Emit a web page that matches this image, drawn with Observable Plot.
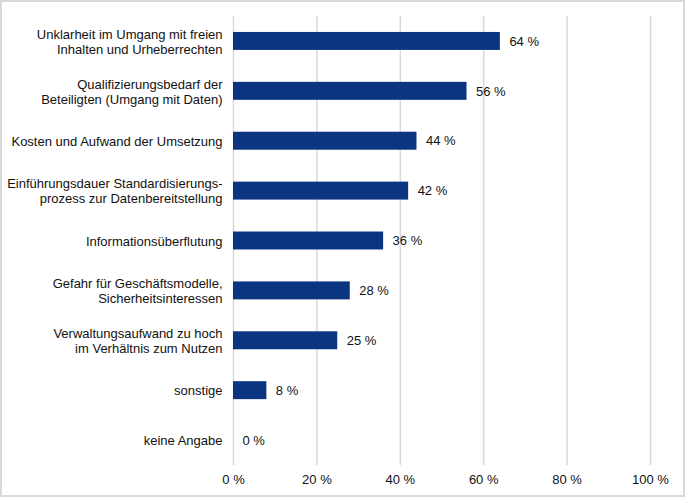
<!DOCTYPE html>
<html>
<head>
<meta charset="utf-8">
<script src="https://cdn.jsdelivr.net/npm/d3@7"></script>
<script src="https://cdn.jsdelivr.net/npm/@observablehq/plot@0.6"></script>
<style>
  html, body { margin: 0; padding: 0; background: #fff; }
  #wrap { width: 685px; height: 497px; box-sizing: border-box; border: 2px solid #d9d9d9; background: #fff; }
  #wrap svg { display: block; }
</style>
</head>
<body>
<div id="wrap"></div>
<script>
const categories = [
  "Unklarheit im Umgang mit freien\nInhalten und Urheberrechten",
  "Qualifizierungsbedarf der\nBeteiligten (Umgang mit Daten)",
  "Kosten und Aufwand der Umsetzung",
  "Einführungsdauer Standardisierungs-\nprozess zur Datenbereitstellung",
  "Informationsüberflutung",
  "Gefahr für Geschäftsmodelle,\nSicherheitsinteressen",
  "Verwaltungsaufwand zu hoch\nim Verhältnis zum Nutzen",
  "sonstige",
  "keine Angabe"
];
const values = [64, 56, 44, 42, 36, 28, 25, 8, 0];
const xTicks = [0, 20, 40, 60, 80, 100];

const data = categories.map((c, i) => ({category: c, value: values[i]}));

const chart = Plot.plot({
  width: 681,
  height: 493,
  marginLeft: 231,
  marginRight: 33,
  marginTop: 14,
  marginBottom: 30,
  style: {fontFamily: "'Liberation Sans', Arial, sans-serif", fontSize: "13px", color: "#111", background: "#fff"},
  x: {domain: [0, 100], ticks: xTicks},
  y: {domain: categories, paddingInner: 0.64, paddingOuter: 0.32, align: 0.5, round: false},
  marks: [
    Plot.ruleX(xTicks, {stroke: "#d9d9d9", strokeWidth: 1.5}),
    Plot.barX(data, {x: "value", y: "category", fill: "#0b3580"}),
    Plot.text(data, {x: "value", y: "category", text: d => `${d.value} %`, textAnchor: "start", dx: 9, fill: "#111", fontSize: 13}),
    Plot.axisY({tickSize: 0, tickPadding: 11, lineHeight: 1.15, fontSize: 13, fill: "#111", label: null}),
    Plot.axisX(xTicks, {tickSize: 0, tickPadding: 9, tickFormat: d => `${d} %`, fontSize: 13, fill: "#111", label: null})
  ]
});
document.getElementById("wrap").appendChild(chart);
</script>
</body>
</html>
